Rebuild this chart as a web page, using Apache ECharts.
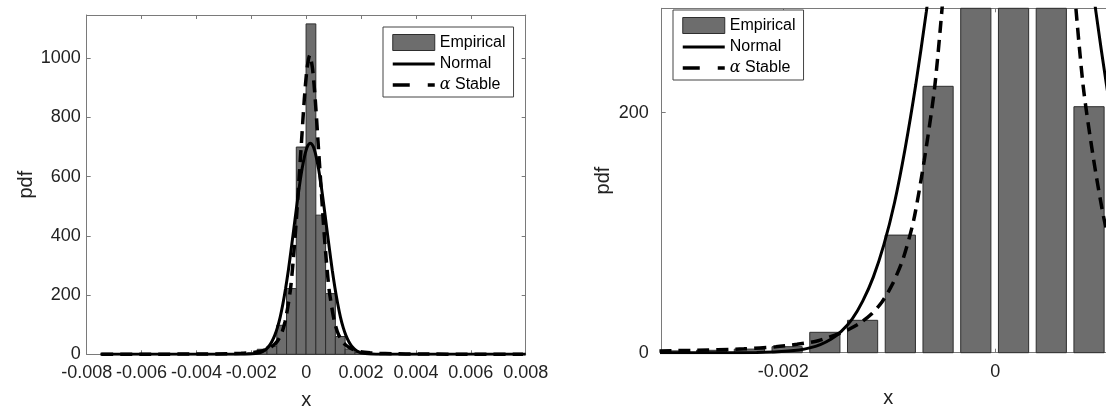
<!DOCTYPE html>
<html>
<head>
<meta charset="utf-8">
<style>
  html, body { margin: 0; padding: 0; background: #fff; }
  #chart { width: 1106px; height: 410px; }
</style>
<script src="https://cdn.jsdelivr.net/npm/echarts@6/dist/echarts.min.js"></script>
</head>
<body>
<div id="chart"></div>
<script>
// ── data ──
const binCenters = [-0.003031, -0.002675, -0.002319, -0.001963, -0.001607, -0.001251, -0.000895, -0.000539,
  -0.000183, 0.000173, 0.000529, 0.000885, 0.001241, 0.001597, 0.001953, 0.002309, 0.002665, 0.003021]
const binValues = [1.5, 2, 3, 5, 17, 27, 98, 222, 700, 1116, 470, 205, 60, 18, 6, 3, 2, 1]

const normalX = [-0.0075, -0.004, -0.00255, -0.00225, -0.00205, -0.00185, -0.00175, -0.00165, -0.00155,
  -0.00145, -0.00135, -0.00125, -0.00115, -0.00105, -0.00095, -0.00085, -0.00075, -0.00065, -0.00055,
  -0.00045, -0.00035, -0.00025, -0.00015, -0.00005, 0.00005, 0.00015, 0.00025, 0.00035, 0.00045, 0.00055,
  0.00065, 0.00075, 0.00085, 0.00095, 0.00105, 0.00115, 0.00125, 0.00135, 0.00145, 0.00155, 0.00165,
  0.00175, 0.00185, 0.00195, 0.00205, 0.00215, 0.00235, 0.00255, 0.00285, 0.004, 0.008]
const normalY = [0, 0, 0, 0.2, 0.7, 2.3, 4, 6.8, 11.2,
  18, 28, 43, 63, 90, 125, 170, 223, 284, 353,
  425, 498, 567, 627, 673, 703, 713, 703, 673, 627, 567,
  498, 425, 353, 284, 223, 170, 125, 90, 63, 43, 28,
  18, 11.2, 6.8, 4, 2.3, 0.7, 0.2, 0, 0, 0]

const stableX = [-0.00747, -0.00587, -0.00387, -0.00287, -0.00237, -0.00207, -0.00187, -0.00167,
  -0.00147, -0.00137, -0.00127, -0.00117, -0.00107, -0.00097, -0.00087, -0.00077, -0.00067, -0.00057,
  -0.00047, -0.00037, -0.00027, -0.00017, -0.00007, 0.00003, 0.00013, 0.00023, 0.00033, 0.00043, 0.00053,
  0.00063, 0.00073, 0.00083, 0.00093, 0.00103, 0.00113, 0.00123, 0.00133, 0.00143, 0.00153, 0.00163,
  0.00173, 0.00193, 0.00213, 0.00233, 0.00263, 0.00313, 0.00413, 0.00613, 0.0079]
const stableY = [0.25, 0.4, 0.9, 1.9, 3.2, 5, 7, 10,
  16, 20, 25, 32, 42, 57, 78, 110, 160, 222,
  320, 440, 580, 720, 860, 965, 1010, 965, 860, 720, 580,
  440, 320, 222, 160, 110, 78, 57, 42, 32, 25, 20,
  16, 10, 7, 5, 3.2, 1.9, 0.9, 0.4, 0.25]

const leftXTicks = [-0.008, -0.006, -0.004, -0.002, 0, 0.002, 0.004, 0.006, 0.008]
const leftYTicks = [0, 200, 400, 600, 800, 1000]
const rightXTicks = [-0.002, 0]
const rightYTicks = [0, 200]

// ── style ──
const BIN_WIDTH = 0.000356
const BAR_FILL = '#6d6d6d'
const BAR_EDGE = '#2e2e2e'
const AXIS_COLOR = '#7a7a7a'
const TEXT_COLOR = '#222'
const FONT = "'Liberation Sans', Arial, Helvetica, sans-serif"
const NO_SYMBOL = { color: 'rgba(0,0,0,0)', borderColor: 'rgba(0,0,0,0)', borderWidth: 0 }

const pairs = (xs, ys) => xs.map((x, i) => [x, ys[i]])
const fmtX = (v) => (Math.abs(v) < 1e-12 ? '0' : v.toFixed(3))

function histItem(frac) {
  return function (params, api) {
    const x = api.value(0)
    const y = api.value(1)
    const half = BIN_WIDTH * frac / 2
    const p0 = api.coord([x - half, y])
    const p1 = api.coord([x + half, 0])
    const cs = params.coordSys
    const shape = echarts.graphic.clipRectByRect(
      { x: p0[0], y: p0[1], width: p1[0] - p0[0], height: p1[1] - p0[1] },
      { x: cs.x, y: cs.y, width: cs.width, height: cs.height }
    )
    return shape && { type: 'rect', shape, style: { fill: BAR_FILL, stroke: BAR_EDGE, lineWidth: 1 } }
  }
}

function axisPair(dim, gridIndex, min, max, ticks, opts) {
  const base = {
    type: 'value', gridIndex, min, max,
    axisLine: { show: true, onZero: false, lineStyle: { color: AXIS_COLOR, width: 1 } },
    axisTick: { show: true, inside: true, length: 4, customValues: ticks, lineStyle: { color: AXIS_COLOR } },
    splitLine: { show: false },
  }
  const main = Object.assign({}, base, {
    position: dim === 'x' ? 'bottom' : 'left',
    axisLabel: {
      show: true, customValues: ticks, color: TEXT_COLOR, fontFamily: FONT, fontSize: 18,
      margin: opts.labelMargin, formatter: dim === 'x' ? fmtX : (v) => String(Math.round(v)),
    },
    name: dim === 'x' ? 'x' : 'pdf',
    nameLocation: 'middle',
    nameGap: opts.nameGap,
    nameTextStyle: { color: TEXT_COLOR, fontFamily: FONT, fontSize: 20 },
  })
  const mirror = Object.assign({}, base, {
    position: dim === 'x' ? 'top' : 'right',
    axisLabel: { show: false },
  })
  return [main, mirror]
}

const lineSeries = (name, xs, ys, xi, yi, style) => ({
  name, type: 'line', xAxisIndex: xi, yAxisIndex: yi,
  data: pairs(xs, ys), symbol: 'none', showSymbol: false,
  smooth: 0.25, clip: true,
  lineStyle: style, itemStyle: { color: '#000' }, silent: true,
})

const legendBase = {
  orient: 'vertical', itemWidth: 42, itemHeight: 16, itemGap: 5,
  padding: [7, 8, 4, 8], backgroundColor: '#fff', borderColor: '#444', borderWidth: 1,
  selectedMode: false,
  textStyle: {
    color: '#000', fontFamily: FONT, fontSize: 16,
    rich: { a: { fontFamily: "'DejaVu Serif', 'Liberation Serif', serif", fontStyle: 'italic', fontSize: 16, color: '#000' } },
  },
  formatter: (name) => (name === 'α Stable' ? '{a|α} Stable' : name),
  data: [
    { name: 'Empirical', icon: 'rect', itemStyle: { color: BAR_FILL, borderColor: BAR_EDGE, borderWidth: 1 } },
    { name: 'Normal', itemStyle: NO_SYMBOL, lineStyle: { color: '#000', width: 3, type: 'solid' } },
    { name: 'α Stable', itemStyle: NO_SYMBOL, lineStyle: { color: '#000', width: 3.5, type: [17, 18] } },
  ],
}

const leftX = axisPair('x', 0, -0.008, 0.008, leftXTicks, { labelMargin: 10, nameGap: 36 })
const leftY = axisPair('y', 0, 0, 1146, leftYTicks, { labelMargin: 6, nameGap: 50 })
const rightX = axisPair('x', 1, -0.003146, 0.00113, rightXTicks, { labelMargin: 10, nameGap: 36 })
const rightY = axisPair('y', 1, 0, 287, rightYTicks, { labelMargin: 13, nameGap: 48 })

const chart = echarts.init(document.getElementById('chart'), null, { renderer: 'canvas' })
chart.setOption({
  animation: false,
  textStyle: { fontFamily: FONT },
  grid: [
    { left: 86.7, top: 15, width: 439, height: 339.3, outerBoundsMode: 'none' },
    { left: 661.7, top: 8.3, width: 453.3, height: 344.4, outerBoundsMode: 'none' },
  ],
  xAxis: [leftX[0], leftX[1], rightX[0], rightX[1]],
  yAxis: [leftY[0], leftY[1], rightY[0], rightY[1]],
  legend: [
    Object.assign({}, legendBase, { left: 383, top: 27 }),
    Object.assign({}, legendBase, { left: 673, top: 10 }),
  ],
  series: [
    {
      name: 'Empirical', type: 'custom', xAxisIndex: 0, yAxisIndex: 0,
      renderItem: histItem(1), data: pairs(binCenters, binValues),
      itemStyle: { color: BAR_FILL, borderColor: BAR_EDGE, borderWidth: 1 }, silent: true,
    },
    lineSeries('Normal', normalX, normalY, 0, 0, { color: '#000', width: 3 }),
    lineSeries('α Stable', stableX, stableY, 0, 0, { color: '#000', width: 3.5, type: [12, 7] }),
    {
      name: 'Empirical', type: 'custom', xAxisIndex: 2, yAxisIndex: 2,
      renderItem: histItem(0.8), data: pairs(binCenters, binValues),
      itemStyle: { color: BAR_FILL, borderColor: BAR_EDGE, borderWidth: 1 }, silent: true,
    },
    lineSeries('Normal', normalX, normalY, 2, 2, { color: '#000', width: 3 }),
    lineSeries('α Stable', stableX, stableY, 2, 2, { color: '#000', width: 3.5, type: [12, 7] }),
  ],
})
</script>
</body>
</html>
